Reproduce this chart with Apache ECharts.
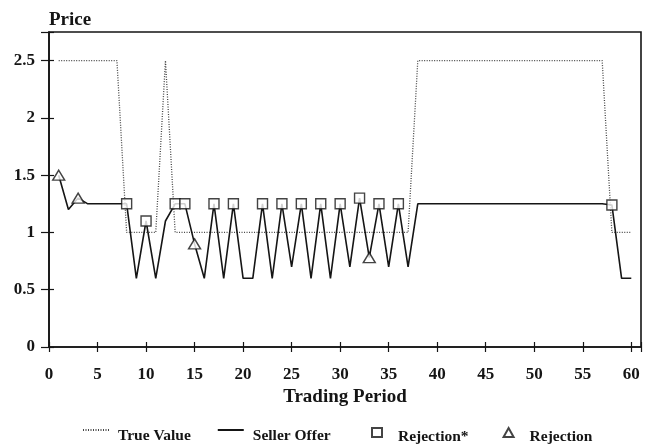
<!DOCTYPE html>
<html lang="en">
<head>
    <meta charset="UTF-8">
    <title>Price by Trading Period</title>
    <script src="https://cdn.jsdelivr.net/npm/echarts@6/dist/echarts.min.js"></script>
    <style>
        html, body { margin: 0; padding: 0; background: #fff; }
        #chart { width: 645px; height: 447px; }
    </style>
</head>
<body>
    <div id="chart"></div>
    <script>
    // data
    var periods = [1, 2, 3, 4, 5, 6, 7, 8, 9, 10, 11, 12, 13, 14, 15, 16, 17, 18, 19, 20,
        21, 22, 23, 24, 25, 26, 27, 28, 29, 30, 31, 32, 33, 34, 35, 36, 37, 38, 39, 40,
        41, 42, 43, 44, 45, 46, 47, 48, 49, 50, 51, 52, 53, 54, 55, 56, 57, 58, 59, 60];

    var trueValue = [2.5, 2.5, 2.5, 2.5, 2.5, 2.5, 2.5, 1, 1, 1, 1, 2.5, 1, 1, 1, 1, 1, 1, 1, 1,
        1, 1, 1, 1, 1, 1, 1, 1, 1, 1, 1, 1, 1, 1, 1, 1, 1, 2.5, 2.5, 2.5,
        2.5, 2.5, 2.5, 2.5, 2.5, 2.5, 2.5, 2.5, 2.5, 2.5, 2.5, 2.5, 2.5, 2.5, 2.5, 2.5, 2.5, 1, 1, 1];

    var sellerOffer = [1.5, 1.2, 1.3, 1.25, 1.25, 1.25, 1.25, 1.25, 0.6, 1.1, 0.6, 1.1, 1.25, 1.25, 0.9, 0.6, 1.25, 0.6, 1.25, 0.6,
        0.6, 1.25, 0.6, 1.25, 0.7, 1.25, 0.6, 1.25, 0.6, 1.25, 0.7, 1.3, 0.78, 1.25, 0.7, 1.25, 0.7, 1.25, 1.25, 1.25,
        1.25, 1.25, 1.25, 1.25, 1.25, 1.25, 1.25, 1.25, 1.25, 1.25, 1.25, 1.25, 1.25, 1.25, 1.25, 1.25, 1.25, 1.24, 0.6, 0.6];

    // periods where the offer was rejected
    var rejectionStarPeriods = [8, 10, 13, 14, 17, 19, 22, 24, 26, 28, 30, 32, 34, 36, 58];
    var rejectionPeriods = [1, 3, 15, 33];

    var xTicks = [0, 5, 10, 15, 20, 25, 30, 35, 40, 45, 50, 55, 60];
    var yTicks = [0, 0.5, 1, 1.5, 2, 2.5];

    function pairs(xs, ys) {
        return xs.map(function (x, i) { return [x, ys[i]]; });
    }
    function offerAt(list) {
        return list.map(function (p) { return [p, sellerOffer[periods.indexOf(p)]]; });
    }

    var font = 'Liberation Serif';
    var ink = '#151515';

    // legend labels sit a little lower than their icons in the original
    function legendText(padLeft, padTop) {
        return {
            fontFamily: font, fontWeight: 'bold', fontSize: 15.5, color: ink,
            rich: {
                t: { fontFamily: font, fontWeight: 'bold', fontSize: 15.5, color: ink, padding: [padTop, 0, 0, padLeft] }
            }
        };
    }
    function wrapName(name) { return '{t|' + name + '}'; }

    var chart = echarts.init(document.getElementById('chart'));

    var option = {
        animation: false,
        backgroundColor: '#fff',
        textStyle: { fontFamily: font, fontWeight: 'bold', color: ink },
        grid: {
            left: 49, right: 4, top: 32, bottom: 100,
            show: true, borderColor: ink, borderWidth: 1.6, backgroundColor: 'transparent'
        },
        legend: [
            {
                data: ['True Value', 'Seller Offer'],
                left: 82, top: 426, padding: 0,
                itemWidth: 26, itemHeight: 10, itemGap: 26,
                itemStyle: { opacity: 0 },
                formatter: wrapName,
                textStyle: legendText(4, 11)
            },
            {
                data: ['Rejection*', 'Rejection'],
                left: 371, top: 427, padding: 0,
                itemWidth: 10, itemHeight: 9, itemGap: 34,
                formatter: wrapName,
                textStyle: legendText(11, 8)
            }
        ],
        xAxis: [
            {
                type: 'value', min: 0, max: 61, interval: 5,
                name: 'Trading Period', nameLocation: 'middle', nameGap: 38,
                nameTextStyle: { fontFamily: font, fontWeight: 'bold', fontSize: 19, color: ink },
                axisLine: { show: true, lineStyle: { color: ink, width: 1.6 } },
                axisTick: { show: true, length: 5, lineStyle: { color: ink, width: 1.2 } },
                axisLabel: {
                    margin: 19, fontFamily: font, fontWeight: 'bold', fontSize: 17, color: ink,
                    formatter: function (v) { return xTicks.indexOf(v) >= 0 ? String(v) : ''; }
                },
                splitLine: { show: false }
            },
            {
                type: 'value', min: 0, max: 61, interval: 5, position: 'bottom',
                axisLine: { show: false },
                axisTick: { show: true, inside: true, length: 5, lineStyle: { color: ink, width: 1.2 } },
                axisLabel: { show: false },
                splitLine: { show: false }
            }
        ],
        yAxis: [
            {
                type: 'value', min: 0, max: 2.75, interval: 0.5,
                name: 'Price', nameLocation: 'end', nameGap: 2,
                nameTextStyle: { fontFamily: font, fontWeight: 'bold', fontSize: 19, color: ink, align: 'left' },
                axisLine: { show: true, lineStyle: { color: ink, width: 1.6 } },
                axisTick: { show: true, length: 8, lineStyle: { color: ink, width: 1.2 } },
                axisLabel: {
                    margin: 14, fontFamily: font, fontWeight: 'bold', fontSize: 17, color: ink,
                    formatter: function (v) { return yTicks.indexOf(v) >= 0 ? String(v) : ''; }
                },
                splitLine: { show: false }
            },
            {
                type: 'value', min: 0, max: 2.75, interval: 0.5, position: 'left',
                axisLine: { show: false },
                axisTick: { show: true, inside: true, length: 5, lineStyle: { color: ink, width: 1.2 } },
                axisLabel: { show: false },
                splitLine: { show: false }
            }
        ],
        series: [
            {
                name: 'True Value',
                type: 'line',
                data: pairs(periods, trueValue),
                symbol: 'none',
                lineStyle: { color: '#444', width: 1.3, type: [1, 1.5] },
                itemStyle: { color: '#444' },
                z: 2
            },
            {
                name: 'Seller Offer',
                type: 'line',
                data: pairs(periods, sellerOffer),
                symbol: 'none',
                lineStyle: { color: ink, width: 1.6 },
                itemStyle: { color: ink },
                z: 3
            },
            {
                name: 'Rejection*',
                type: 'scatter',
                data: offerAt(rejectionStarPeriods),
                symbol: 'rect',
                symbolSize: 10,
                itemStyle: { color: '#fff', borderColor: ink, borderWidth: 1.4 },
                z: 4
            },
            {
                name: 'Rejection',
                type: 'scatter',
                data: offerAt(rejectionPeriods),
                symbol: 'triangle',
                symbolSize: [12, 10],
                itemStyle: { color: '#fff', borderColor: ink, borderWidth: 1.4 },
                z: 4
            }
        ]
    };

    chart.setOption(option);
    </script>
</body>
</html>
